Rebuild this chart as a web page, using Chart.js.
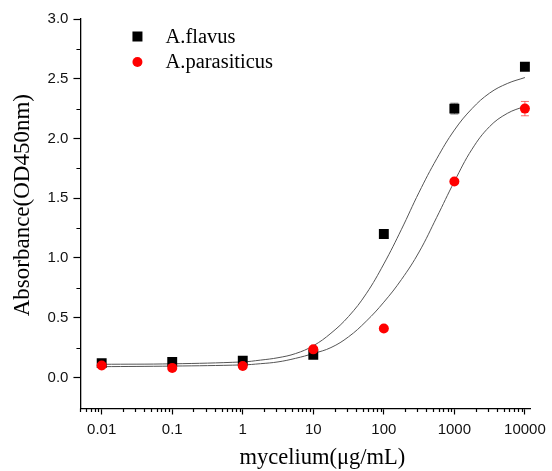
<!DOCTYPE html>
<html>
<head>
<meta charset="utf-8">
<script src="https://cdn.jsdelivr.net/npm/chart.js@4/dist/chart.umd.min.js"></script>
<style>
    html, body { margin: 0; padding: 0; background: #fff; }
    #wrap { width: 552px; height: 471px; }
</style>
</head>
<body>
<div id="wrap"><canvas id="absorbanceChart"></canvas></div>
<script>
// measured points
const concentrations = [0.01, 0.1, 1, 10, 100, 1000, 10000];
const flavusValues = [0.12, 0.13, 0.14, 0.19, 1.20, 2.25, 2.60];
const flavusErrors = [0.01, 0.01, 0.01, 0.01, 0.01, 0.045, 0.01];
const parasiticusValues = [0.10, 0.08, 0.095, 0.235, 0.41, 1.64, 2.25];
const parasiticusErrors = [0.01, 0.01, 0.01, 0.01, 0.01, 0.01, 0.06];

// fitted curves (quarter-decade steps)
const fitConcentrations = [0.01, 0.1, 1, 1.78, 3.16, 5.62, 10, 17.8, 31.6, 56.2, 100, 178, 316, 562, 1000, 1778, 3162, 5623, 10000];
const flavusFit = [0.11, 0.114, 0.13, 0.145, 0.165, 0.20, 0.265, 0.37, 0.51, 0.70, 0.95, 1.24, 1.55, 1.83, 2.07, 2.25, 2.38, 2.46, 2.51];
const parasiticusFit = [0.09, 0.095, 0.105, 0.115, 0.13, 0.16, 0.20, 0.25, 0.34, 0.47, 0.63, 0.82, 1.05, 1.34, 1.64, 1.91, 2.10, 2.21, 2.27];

// axes
const xTickValues = [0.01, 0.1, 1, 10, 100, 1000, 10000];
const xTickLabels = ['0.01', '0.1', '1', '10', '100', '1000', '10000'];
const yTickValues = [0, 0.5, 1.0, 1.5, 2.0, 2.5, 3.0];
const yTickLabels = ['0.0', '0.5', '1.0', '1.5', '2.0', '2.5', '3.0'];
const yMinorTicks = [0.25, 0.75, 1.25, 1.75, 2.25, 2.75];

const seriesNames = ['A.flavus', 'A.parasiticus'];

function toPoints(xs, ys) {
    return xs.map((x, i) => ({ x: x, y: ys[i] }));
}

// minor tick marks, error bars and the legend
const extrasPlugin = {
    id: 'extras',
    beforeDatasetsDraw(chart) {
        const ctx = chart.ctx;
        const x = chart.scales.x;
        const y = chart.scales.y;
        const bars = [
            { values: parasiticusValues, errors: parasiticusErrors, color: 'rgba(255,40,40,0.7)' },
            { values: flavusValues, errors: flavusErrors, color: '#777' }
        ];
        ctx.save();
        ctx.lineWidth = 1;
        bars.forEach(b => {
            ctx.strokeStyle = b.color;
            concentrations.forEach((c, i) => {
                const px = x.getPixelForValue(c);
                const top = y.getPixelForValue(b.values[i] + b.errors[i]);
                const bot = y.getPixelForValue(b.values[i] - b.errors[i]);
                ctx.beginPath();
                ctx.moveTo(px, top); ctx.lineTo(px, bot);
                ctx.moveTo(px - 4, top); ctx.lineTo(px + 4, top);
                ctx.moveTo(px - 4, bot); ctx.lineTo(px + 4, bot);
                ctx.stroke();
            });
        });
        ctx.restore();
    },
    afterDraw(chart) {
        const ctx = chart.ctx;
        const x = chart.scales.x;
        const y = chart.scales.y;
        const area = chart.chartArea;
        ctx.save();
        ctx.strokeStyle = '#000';
        ctx.lineWidth = 1.2;
        ctx.beginPath();
        for (let d = -3; d <= 4; d++) {
            for (let m = 2; m <= 9; m++) {
                const v = m * Math.pow(10, d);
                if (v < x.min || v > x.max) continue;
                const px = Math.round(x.getPixelForValue(v)) + 0.5;
                ctx.moveTo(px, area.bottom);
                ctx.lineTo(px, area.bottom + 3.5);
            }
        }
        yMinorTicks.forEach(v => {
            const py = Math.round(y.getPixelForValue(v)) + 0.5;
            ctx.moveTo(area.left, py);
            ctx.lineTo(area.left - 4, py);
        });
        ctx.stroke();

        // legend inside the plot
        const lx = area.left + 57;
        const ly = [area.top + 17.5, area.top + 43];
        ctx.fillStyle = '#000';
        ctx.fillRect(lx - 5, ly[0] - 5, 10, 10);
        ctx.fillStyle = '#ff0000';
        ctx.beginPath();
        ctx.arc(lx, ly[1], 5, 0, Math.PI * 2);
        ctx.fill();
        ctx.fillStyle = '#000';
        ctx.font = '20.5px "Liberation Serif"';
        ctx.textBaseline = 'middle';
        ctx.textAlign = 'left';
        ctx.fillText(seriesNames[0], lx + 28, ly[0] + 1);
        ctx.fillText(seriesNames[1], lx + 28, ly[1] + 1);
        ctx.restore();
    }
};

const canvas = document.getElementById('absorbanceChart').getContext('2d');
new Chart(canvas, {
    type: 'scatter',
    data: {
        datasets: [
            {
                label: seriesNames[1],
                data: toPoints(concentrations, parasiticusValues),
                pointStyle: 'circle',
                pointRadius: 5,
                backgroundColor: '#ff0000',
                borderWidth: 0,
            },
            {
                label: seriesNames[0],
                data: toPoints(concentrations, flavusValues),
                pointStyle: 'rect',
                pointRadius: 7,
                backgroundColor: '#000',
                borderWidth: 0,
            },
            {
                label: 'flavus fit',
                type: 'line',
                data: toPoints(fitConcentrations, flavusFit),
                borderColor: '#555',
                borderWidth: 1,
                pointRadius: 0,
                tension: 0.4,
                fill: false,
            },
            {
                label: 'parasiticus fit',
                type: 'line',
                data: toPoints(fitConcentrations, parasiticusFit),
                borderColor: '#555',
                borderWidth: 1,
                pointRadius: 0,
                tension: 0.4,
                fill: false,
            }
        ]
    },
    options: {
        responsive: true,
        maintainAspectRatio: false,
        animation: false,
        layout: { padding: { top: 19, right: 19, left: 9, bottom: 2 } },
        plugins: {
            legend: { display: false },
            tooltip: { enabled: false }
        },
        scales: {
            x: {
                type: 'logarithmic',
                min: 0.005,
                max: 12000,
                afterBuildTicks: function(scale) {
                    scale.ticks = xTickValues.map(v => ({ value: v }));
                },
                grid: { drawOnChartArea: false, tickLength: 6, tickColor: '#000', tickWidth: 1.2 },
                border: { color: '#000', width: 1.3 },
                ticks: {
                    autoSkip: false,
                    maxRotation: 0,
                    padding: 6,
                    color: '#111',
                    font: { family: 'Liberation Sans', size: 15 },
                    callback: function(value, index) {
                        return xTickLabels[index];
                    }
                },
                title: {
                    display: true,
                    text: '      mycelium(μg/mL)',
                    color: '#000',
                    font: { family: 'Liberation Serif', size: 22.5, lineHeight: 1 },
                    padding: { top: 2, bottom: 0 }
                }
            },
            y: {
                min: -0.26,
                max: 3.0,
                afterBuildTicks: function(scale) {
                    scale.ticks = yTickValues.map(v => ({ value: v }));
                },
                grid: { drawOnChartArea: false, tickLength: 7, tickColor: '#000', tickWidth: 1.2 },
                border: { color: '#000', width: 1.3 },
                ticks: {
                    padding: 5,
                    color: '#111',
                    font: { family: 'Liberation Sans', size: 15 },
                    callback: function(value, index) {
                        return yTickLabels[index];
                    }
                },
                title: {
                    display: true,
                    text: '   Absorbance(OD450nm)',
                    color: '#000',
                    font: { family: 'Liberation Serif', size: 23 },
                    padding: { top: 0, bottom: 6 }
                }
            }
        }
    },
    plugins: [extrasPlugin]
});
</script>
</body>
</html>
